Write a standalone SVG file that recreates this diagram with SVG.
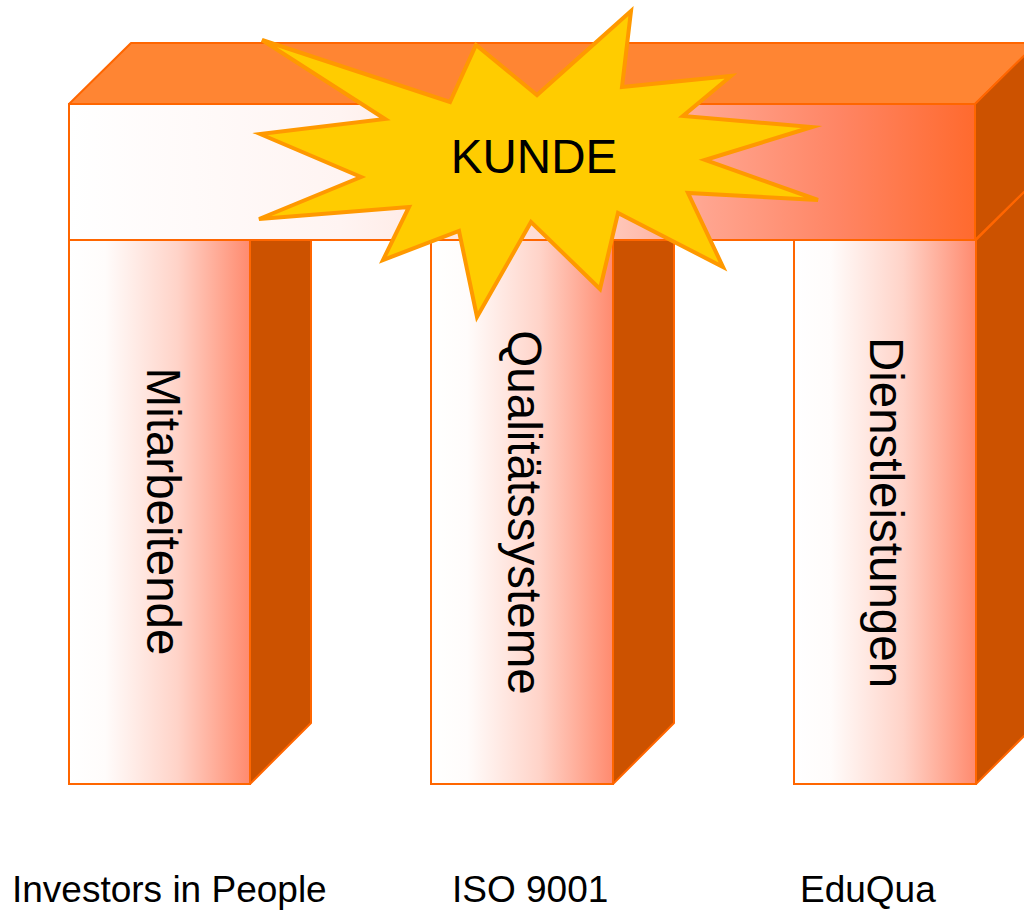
<svg xmlns="http://www.w3.org/2000/svg" width="1024" height="911" viewBox="0 0 1024 911">
<defs>
<linearGradient id="gPillar" x1="0" y1="0" x2="1" y2="0">
<stop offset="0" stop-color="#FFFFFF"/>
<stop offset="0.2" stop-color="#FFFCFB"/>
<stop offset="0.6" stop-color="#FFD3C8"/>
<stop offset="1" stop-color="#FF8A6E"/>
</linearGradient>
<linearGradient id="gBeam" x1="0" y1="0" x2="1" y2="0">
<stop offset="0" stop-color="#FFFFFF"/>
<stop offset="0.3" stop-color="#FFF4F2"/>
<stop offset="0.55" stop-color="#FFD9CF"/>
<stop offset="0.7" stop-color="#FFA590"/>
<stop offset="0.85" stop-color="#FF8564"/>
<stop offset="1" stop-color="#FF6A2E"/>
</linearGradient>
<style>
.front{stroke:#FF6600;stroke-width:2}
.pfront{fill:url(#gPillar)}
.side{fill:#CC5200;stroke:#FF6600;stroke-width:2;stroke-linejoin:round}
.top{fill:#FF8533;stroke:#FF6600;stroke-width:2;stroke-linejoin:round}
.lbl{font-family:"Liberation Sans",Arial,sans-serif;font-size:47.5px;fill:#000}
.cap{font-family:"Liberation Sans",Arial,sans-serif;font-size:37px;fill:#000}
.star{fill:#FFCC00;stroke:#FF9900;stroke-width:4;stroke-linejoin:miter;stroke-miterlimit:6}
</style>
</defs>
<g id="pillar1">
<polygon class="side" points="250,240 311,179 311,723 250,784"/>
<rect class="front pfront" x="69" y="240" width="181" height="544"/>
<text class="lbl" text-anchor="middle" transform="translate(147,511.5) rotate(90)">Mitarbeitende</text>
</g>
<g id="pillar2">
<polygon class="side" points="613,240 674,179 674,723 613,784"/>
<rect class="front pfront" x="431" y="240" width="182" height="544"/>
<text class="lbl" text-anchor="middle" transform="translate(508,512.5) rotate(90)">Qualitätssysteme</text>
</g>
<g id="pillar3">
<polygon class="side" points="976,240 1037,179 1037,723 976,784"/>
<rect class="front pfront" x="794" y="240" width="182" height="544"/>
<text class="lbl" text-anchor="middle" transform="translate(870,512.5) rotate(90)">Dienstleistungen</text>
</g>
<g id="beam">
<polygon class="top" points="69,104 131,43 1037,43 975,104"/>
<polygon class="side" points="975,104 1037,43 1037,179 975,240"/>
<rect class="front" fill="url(#gBeam)" x="69" y="104" width="906" height="136"/>
</g>
<g id="kunde">
<polygon class="star" points="262,40 450,102 476,45 537,95 631,11 622,87 731,76 683,116 812,127 705,160 818,200 688,193 723,267 618,213 600,289 531,222 477,317 459,231 383,260 409,207 259,219 361,177 260,134 385,119"/>
<text class="lbl" text-anchor="middle" x="534" y="173">KUNDE</text>
</g>
<g id="captions">
<text class="cap" x="12" y="902">Investors in People</text>
<text class="cap" x="452" y="902">ISO 9001</text>
<text class="cap" x="800" y="902">EduQua</text>
</g>
<g id="connectors"/>
</svg>
